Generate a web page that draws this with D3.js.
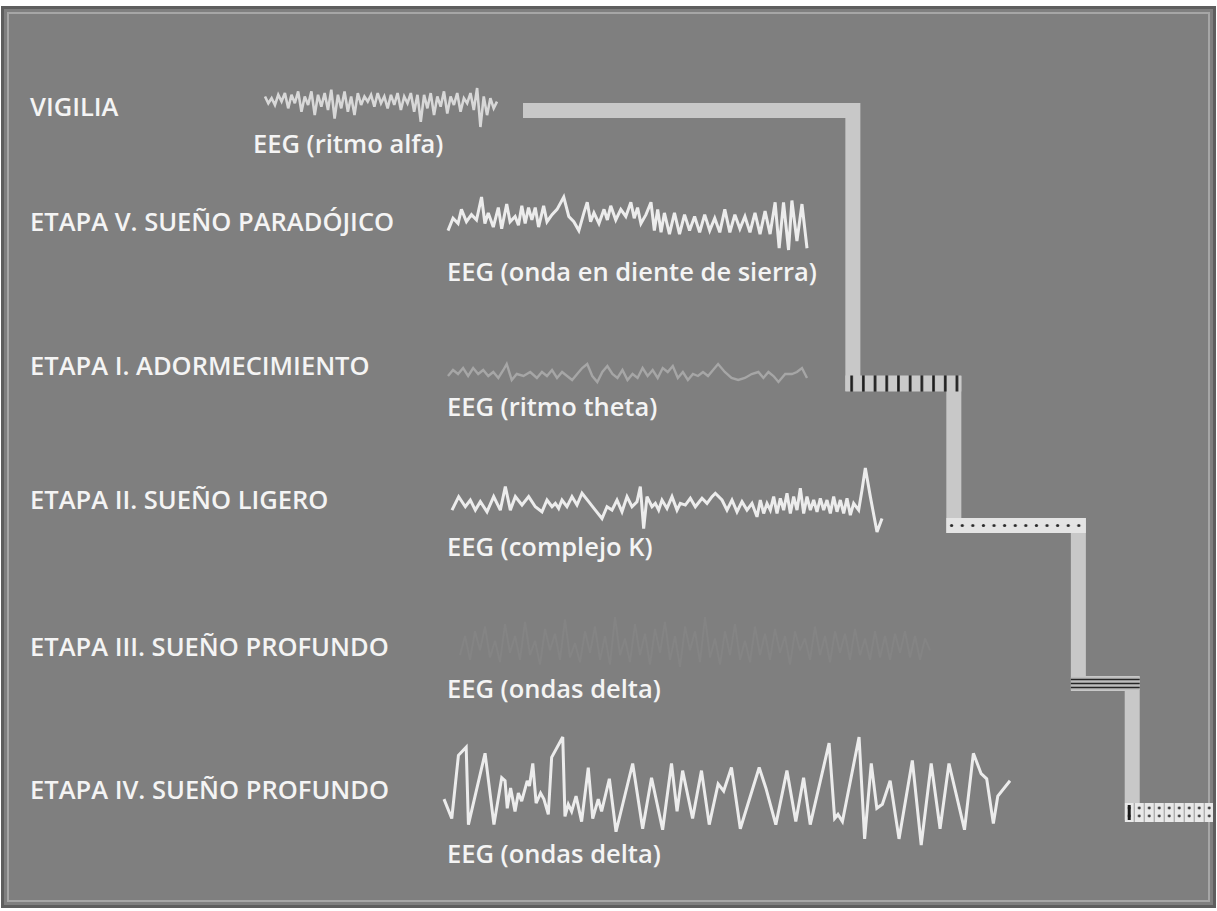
<!DOCTYPE html>
<html><head><meta charset="utf-8">
<script src="https://cdn.jsdelivr.net/npm/d3@7"></script>
<style>
body{margin:0;background:#fff}
text{font-family:"Open Sans",sans-serif;font-weight:600;fill:#f4f4f4}
</style>
</head><body>
<svg id="chart" width="1217" height="911"></svg>
<script>
// ---------------- DATA ----------------
const stageLabels = ["VIGILIA","ETAPA V. SUEÑO PARADÓJICO","ETAPA I. ADORMECIMIENTO","ETAPA II. SUEÑO LIGERO","ETAPA III. SUEÑO PROFUNDO","ETAPA IV. SUEÑO PROFUNDO"];
const eegLabels = ["EEG (ritmo alfa)","EEG (onda en diente de sierra)","EEG (ritmo theta)","EEG (complejo K)","EEG (ondas delta)","EEG (ondas delta)"];

// EEG samples: [time, amplitude] (EEG convention: negative up)
const alphaWave = [-35,-15,-30,-10,-40,-20,-45,0,-40,-15,-50,10,-35,-10,-50,20,-40,-5,-45,5,-55,30,-40,0,-50,10,-35,20,-45,-10,-35,-20,-40,-5,-45,-15,-35,0,-40,-10,-45,5,-35,-15,-45,10,-40,40,-40,0,-45,20,-35,-5,-50,15,-35,-10,-45,10,-30,-15,-45,5,-60,55,-35,20,-30,0,-20];
const sawWave = [[25,20],[40,-15],[55,0],[65,-40],[80,-5],[95,-25],[110,-10],[125,-75],[135,0],[145,-30],[160,10],[175,-45],[185,15],[200,-55],[210,-5],[225,-20],[235,5],[245,-50],[255,0],[265,-45],[275,-10],[285,-45],[295,10],[310,-50],[320,-5],[335,-25],[350,-40],[370,-75],[385,-20],[400,-5],[415,20],[430,-30],[440,-60],[450,-5],[460,-30],[475,0],[490,-40],[500,-10],[510,-50],[525,-10],[540,-40],[555,-20],[570,-60],[580,-15],[590,-45],[600,0],[615,-25],[630,-60],[640,20],[650,-40],[660,25],[670,-30],[685,30],[700,-30],[715,30],[730,-25],[745,20],[760,-20],[775,25],[790,-25],[805,20],[820,-15],[835,25],[850,-40],[865,25],[880,-25],[895,15],[910,-20],[925,25],[940,-30],[955,30],[970,-35],[985,30],[1000,-60],[1012,70],[1025,-60],[1040,75],[1050,-65],[1065,50],[1080,-55],[1095,70]];
const thetaWave = [[25,5],[40,-10],[55,0],[70,-15],[85,5],[100,-15],[115,0],[130,-10],[145,5],[160,-5],[175,10],[190,-10],[200,-25],[215,15],[230,0],[250,5],[270,-5],[290,10],[305,-5],[320,5],[335,-10],[350,10],[365,-5],[380,5],[395,15],[410,0],[425,-15],[440,-25],[455,5],[470,20],[485,-5],[500,-20],[515,0],[530,10],[545,-10],[560,15],[575,0],[590,10],[605,-15],[620,5],[635,-10],[650,10],[665,-15],[680,-5],[695,-20],[710,10],[725,-5],[740,15],[755,0],[770,5],[785,-5],[800,5],[815,-10],[830,-25],[850,-5],[870,10],[890,15],[910,10],[930,0],[950,-5],[965,10],[980,-5],[995,5],[1010,20],[1030,0],[1050,0],[1065,-5],[1080,-15],[1095,10]];
const kComplexWave = [[35,20],[55,-20],[75,10],[90,-10],[105,20],[120,-5],[140,25],[160,-20],[180,20],[195,-50],[210,20],[225,-20],[245,5],[265,-20],[285,10],[305,25],[320,-10],[335,10],[345,0],[355,15],[365,-10],[380,10],[395,-20],[410,5],[425,-30],[445,-5],[465,20],[485,45],[500,10],[515,20],[530,-10],[545,25],[560,-20],[575,10],[590,-5],[600,-50],[610,75],[620,-20],[635,10],[645,0],[655,20],[665,-10],[680,15],[695,-20],[710,20],[720,0],[735,5],[750,-15],[765,10],[785,-15],[800,0],[815,-20],[825,-30],[845,-10],[860,20],[875,-10],[890,25],[905,-5],[920,20],[935,0],[950,40],[960,-10],[970,30],[980,0],[990,20],[1000,-20],[1010,30],[1020,-15],[1030,20],[1040,-30],[1050,30],[1060,-20],[1070,20],[1080,-45],[1090,30],[1100,-20],[1110,20],[1120,-10],[1130,25],[1140,-15],[1150,20],[1160,-10],[1170,30],[1180,-20],[1190,25],[1200,-10],[1210,30],[1220,-15],[1230,35],[1240,0],[1255,20],[1265,-40],[1275,-105],[1290,-20],[1310,85],[1325,45]];
const delta3Wave = [[60,20],[75,-20],[90,30],[105,-30],[120,10],[135,-40],[150,25],[165,-10],[180,35],[195,-45],[210,15],[225,-20],[240,30],[255,-50],[270,20],[285,-10],[300,40],[315,-35],[330,10],[345,-25],[360,30],[375,-55],[390,25],[405,-5],[420,35],[435,-30],[450,15],[465,-40],[480,30],[495,-20],[510,40],[525,-60],[540,20],[555,-15],[570,35],[585,-45],[600,20],[615,-25],[630,40],[645,-35],[660,15],[675,-50],[690,30],[705,-20],[720,45],[735,-40],[750,10],[765,-30],[780,35],[795,-60],[810,25],[825,-15],[840,40],[855,-30],[870,20],[885,-45],[900,30],[915,-10],[930,35],[945,-40],[960,20],[975,-25],[990,30],[1005,-35],[1020,15],[1035,-20],[1050,40],[1065,-30],[1080,10],[1095,-15],[1110,30],[1125,-40],[1140,20],[1155,-20],[1170,35],[1185,-30],[1200,15],[1215,-25],[1230,30],[1245,-35],[1260,20],[1275,-15],[1290,30],[1305,-30],[1320,25],[1335,-20],[1350,30],[1365,-25],[1380,15],[1395,-30],[1410,25],[1425,-20],[1440,30],[1455,-15],[1470,10]];
const delta4Wave = [[3,18],[10,37],[16,-25],[23,-33],[25,43],[40,-27],[48,43],[55,-3],[58,0],[60,27],[63,7],[67,30],[70,12],[73,20],[78,0],[80,5],[83,-17],[86,22],[90,12],[93,18],[97,33],[100,-23],[110,-43],[112,35],[115,23],[118,30],[122,15],[127,40],[133,-13],[137,37],[142,18],[145,30],[152,-2],[158,50],[173,-17],[182,47],[190,-3],[200,48],[208,-17],[213,30],[218,-10],[227,37],[235,-10],[242,43],[250,3],[255,10],[262,-13],[270,47],[287,-13],[293,7],[302,43],[312,-10],[320,40],[327,-3],[333,43],[350,-37],[355,37],[358,33],[362,40],[377,-43],[382,57],[388,-17],[393,27],[398,23],[405,0],[413,57],[425,-20],[433,63],[442,-17],[450,47],[458,-17],[472,48],[480,-27],[487,-7],[492,-2],[498,42],[502,15],[513,0]];

// Hypnogram: stage sequence and boundaries (minutes)
const hypnoStages = ["VIGILIA","ETAPA I","ETAPA II","ETAPA III","ETAPA IV"];
const hypnoBounds = [0, 98, 128, 165, 181, 205];

// ---------------- LAYOUT ----------------
const W = 1217, H = 911;
const svg = d3.select("#chart");
const defs = svg.append("defs");

// frame
svg.append("rect").attr("x",2.5).attr("y",7.5).attr("width",W-5).attr("height",H-12)
  .attr("fill","#7f7f7f").attr("stroke","#5e5e5e").attr("stroke-width",3);
svg.append("rect").attr("x",8).attr("y",13).attr("width",W-16).attr("height",H-23)
  .attr("fill","none").attr("stroke","#a6a6a6").attr("stroke-width",2);

// stage labels
const stageY = [116, 231, 375, 509, 656, 799];
svg.selectAll("text.stage").data(stageLabels).join("text").attr("class","stage")
  .attr("x",30).attr("y",(d,i)=>stageY[i]).attr("font-size",25.5).text(d=>d);

// EEG labels
const eegX = [253,447,447,447,447,447];
const eegY = [153, 281, 416, 556, 698, 863];
svg.selectAll("text.eeg").data(eegLabels).join("text").attr("class","eeg")
  .attr("x",(d,i)=>eegX[i]).attr("y",(d,i)=>eegY[i]).attr("font-size",25.5).text(d=>d);

// traces
const traces = [
  {data: alphaWave.map((v,i)=>[i,v]), x:[265,497], y:[88,127], color:"#d8d8d8", w:2.6},
  {data: sawWave, x:[448,807], y:[197,250], color:"#ececec", w:3},
  {data: thetaWave, x:[448,807], y:[364,382], color:"#a6a6a6", w:2.4},
  {data: kComplexWave, x:[452,882], y:[468,532], color:"#ececec", w:3},
  {data: delta3Wave, x:[460,930], y:[617,667], color:"#848484", w:2},
  {data: delta4Wave, x:[444,1010], y:[737,845], color:"#ececec", w:3}
];
traces.forEach(tr=>{
  const xs = d3.scaleLinear().domain(d3.extent(tr.data,d=>d[0])).range(tr.x);
  const ys = d3.scaleLinear().domain(d3.extent(tr.data,d=>d[1])).range(tr.y);
  svg.append("path").datum(tr.data)
    .attr("d", d3.line().x(d=>xs(d[0])).y(d=>ys(d[1])))
    .attr("fill","none").attr("stroke",tr.color).attr("stroke-width",tr.w)
    .attr("stroke-linejoin","miter").attr("stroke-miterlimit",3);
});

// hypnogram
const hx = d3.scaleLinear().domain([0,205]).range([523,1213]);
const hy = d3.scaleOrdinal().domain(hypnoStages).range([110.5, 383.5, 525.5, 683.5, 812.5]);
const pts = [];
hypnoStages.forEach((s,i)=>{ pts.push([hypnoBounds[i], s]); pts.push([hypnoBounds[i+1], s]); });
svg.append("path").datum(pts)
  .attr("d", d3.line().x(d=>hx(d[0])).y(d=>hy(d[1])))
  .attr("fill","none").attr("stroke","#c8c8c8").attr("stroke-width",15)
  .attr("stroke-linejoin","miter");

// patterns
function pat(id,w,h,build){
  const p = defs.append("pattern").attr("id",id).attr("patternUnits","userSpaceOnUse")
    .attr("width",w).attr("height",h);
  build(p); return p;
}
pat("pI",11.7,40,p=>{
  p.append("rect").attr("width",11.7).attr("height",40).attr("fill","#cacaca");
  p.append("rect").attr("x",5).attr("width",2.6).attr("height",40).attr("fill","#1c1c1c");
}).attr("x",hx(hypnoBounds[1])-7.5);
pat("pII",10.6,40,p=>{
  p.append("rect").attr("width",10.6).attr("height",40).attr("fill","#e4e4e4");
  p.append("circle").attr("cx",5.3).attr("cy",525.5%40).attr("r",1.6).attr("fill","#2a2a2a");
}).attr("x",hx(hypnoBounds[2])-7.5);
pat("pIII",20,20,p=>{
  p.append("rect").attr("width",20).attr("height",20).attr("fill","#bdbdbd");
}).attr("y",0);
pat("pIV",10,40,p=>{
  p.append("rect").attr("width",10).attr("height",40).attr("fill","#e8e8e8");
  p.append("rect").attr("x",9).attr("width",1).attr("height",40).attr("fill","#9a9a9a");
  p.append("circle").attr("cx",4.5).attr("cy",(808)%40).attr("r",1.4).attr("fill","#333");
  p.append("circle").attr("cx",4.5).attr("cy",(816)%40).attr("r",1.4).attr("fill","#333");
}).attr("x",hx(hypnoBounds[4])-7.5);

const bandH = {"ETAPA I":16, "ETAPA II":15, "ETAPA III":13, "ETAPA IV":19};
const bandFill = {"ETAPA I":"url(#pI)","ETAPA II":"url(#pII)","ETAPA III":"url(#pIII)","ETAPA IV":"url(#pIV)"};
hypnoStages.slice(1).forEach((s,k)=>{
  const i = k+1;
  const x0 = hx(hypnoBounds[i]) - 7.5;
  const x1 = i===hypnoStages.length-1 ? hx(hypnoBounds[i+1]) : hx(hypnoBounds[i+1]) + 7.5;
  svg.append("rect").attr("x",x0).attr("y",hy(s)-bandH[s]/2).attr("width",x1-x0).attr("height",bandH[s])
    .attr("fill",bandFill[s]);
  if (s==="ETAPA III") {
    [-4,0,4].forEach(o=>svg.append("line").attr("x1",x0).attr("x2",x1)
      .attr("y1",hy(s)+o).attr("y2",hy(s)+o).attr("stroke","#262626").attr("stroke-width",1.6));
  }
  if (s==="ETAPA IV") {
    svg.append("rect").attr("x",x0+3).attr("y",hy(s)-bandH[s]/2+2).attr("width",3).attr("height",bandH[s]-4).attr("fill","#1a1a1a");
  }
});
</script>
</body></html>
